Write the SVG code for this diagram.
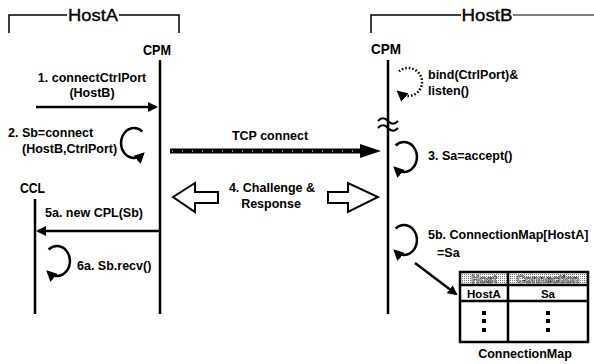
<svg xmlns="http://www.w3.org/2000/svg" width="594" height="364" viewBox="0 0 594 364">
<defs>
<marker id="ahs" viewBox="0 0 10 10" refX="7" refY="5" markerWidth="11" markerHeight="11" orient="auto" markerUnits="userSpaceOnUse">
<path d="M0,0 L10,5 L0,10 z" fill="#000"/>
</marker>
<marker id="ahl" viewBox="0 0 10 10" refX="8" refY="5" markerWidth="10" markerHeight="10" orient="auto" markerUnits="userSpaceOnUse">
<path d="M0,0 L10,5 L0,10 z" fill="#000"/>
</marker>
<pattern id="dots" width="2" height="2" patternUnits="userSpaceOnUse">
<rect width="2" height="2" fill="#fff"/>
<rect width="1" height="1" fill="#777"/>
</pattern>
</defs>
<style>
text{font-family:"Liberation Sans",Arial,sans-serif;fill:#000}
.lbl{font-size:12.5px;font-weight:bold}
.big{font-size:14.5px;font-weight:bold}
.host{font-size:17px;stroke:#000;stroke-width:0.35}
.life{stroke:#000;stroke-width:2.5;fill:none}
.br{stroke:#000;stroke-width:1.5;fill:none}
.loop{stroke:#000;stroke-width:2.5;fill:none;marker-end:url(#ahs)}
.arr{stroke:#000;stroke-width:2.5;fill:none;marker-end:url(#ahl)}
.hollow{stroke:#000;stroke-width:2;fill:#fff;stroke-linejoin:miter}
.tbl{stroke:#000;stroke-width:2.5;fill:none}
.cell{font-size:11.5px;font-weight:bold}
.hdr{font-size:11.5px;font-weight:bold;fill:#fff;stroke:#000;stroke-width:0.6}
</style>

<g id="hostA">
<path class="br" d="M9,33 V15 H67 M119,15 H179 V33"/>
<text class="host" x="93" y="21" text-anchor="middle" textLength="50" lengthAdjust="spacingAndGlyphs">HostA</text>
</g>

<g id="hostB">
<path class="br" d="M371,33 V15 H461"/>
<path d="M513,15 H594" stroke="#000" stroke-width="1.1" fill="none"/>
<text class="host" x="487" y="21" text-anchor="middle" textLength="51" lengthAdjust="spacingAndGlyphs">HostB</text>
</g>

<g id="cpmA">
<text class="big" x="143" y="55" textLength="28" lengthAdjust="spacingAndGlyphs">CPM</text>
<line class="life" x1="160" y1="60" x2="160" y2="314"/>
</g>

<g id="cpmB">
<text class="big" x="371" y="54" textLength="30" lengthAdjust="spacingAndGlyphs">CPM</text>
<line class="life" x1="388" y1="60" x2="388" y2="314"/>
<path d="M378,121 q5,-5.5 10,0 t10,0 M378,128 q5,-5.5 10,0 t10,0" stroke="#000" stroke-width="2" fill="none"/>
</g>

<g id="ccl">
<text class="big" x="20" y="193" textLength="25" lengthAdjust="spacingAndGlyphs">CCL</text>
<line class="life" x1="35" y1="199" x2="35" y2="314"/>
</g>

<g id="connectors">
<line class="arr" x1="36" y1="107" x2="156" y2="107"/>
<path class="loop" d="M142.4,131.5 A13,15 0 1 0 142.4,154.5"/>
<line x1="170" y1="151" x2="364" y2="151" stroke="#000" stroke-width="5"/>
<line x1="172" y1="151" x2="362" y2="151" stroke="#fff" stroke-width="1" stroke-dasharray="1 9"/>
<path d="M360,144 L381,151 L360,158 z" fill="#000"/>
<path d="M399,71.3 A14,14 0 1 1 399,92.7" stroke="#000" stroke-width="2.5" stroke-dasharray="1.5 2" fill="none" marker-end="url(#ahs)"/>
<path class="loop" d="M395.6,145.5 A13,15 0 1 1 395.6,168.5"/>
<polygon class="hollow" points="173,197 195,183 195,192 218,192 218,203 195,203 195,212"/>
<polygon class="hollow" points="328,192 348,192 348,183 378,197 348,212 348,203 328,203"/>
<line class="arr" x1="160" y1="231" x2="38" y2="231"/>
<path class="loop" d="M48.6,249.5 A13,15 0 1 1 48.6,272.5"/>
<path class="loop" d="M395.6,228.5 A13,15 0 1 1 395.6,251.5"/>
<line class="arr" x1="415" y1="263" x2="456" y2="294"/>
</g>

<g id="labels">
<text class="lbl" x="92" y="82" text-anchor="middle">1. connectCtrlPort</text>
<text class="lbl" x="92" y="97" text-anchor="middle">(HostB)</text>
<text class="lbl" x="8" y="137">2. Sb=connect</text>
<text class="lbl" x="22" y="153">(HostB,CtrlPort)</text>
<text class="lbl" x="270" y="140" text-anchor="middle">TCP connect</text>
<text class="lbl" x="428" y="79">bind(CtrlPort)&amp;</text>
<text class="lbl" x="428" y="95">listen()</text>
<text class="lbl" x="428" y="160">3. Sa=accept()</text>
<text class="lbl" x="272" y="192" text-anchor="middle" font-size="13.5">4. Challenge &amp;</text>
<text class="lbl" x="271" y="208" text-anchor="middle" font-size="13.5">Response</text>
<text class="lbl" x="45" y="217">5a. new CPL(Sb)</text>
<text class="lbl" x="77" y="270">6a. Sb.recv()</text>
<text class="lbl" x="428" y="239">5b. ConnectionMap[HostA]</text>
<text class="lbl" x="437" y="257">=Sa</text>
</g>

<g id="connectionMap">
<rect x="460" y="272" width="128" height="13" fill="url(#dots)"/>
<rect class="tbl" x="460" y="272" width="128" height="70"/>
<line class="tbl" x1="460" y1="285" x2="588" y2="285"/>
<line class="tbl" x1="460" y1="301" x2="588" y2="301"/>
<line class="tbl" x1="508" y1="272" x2="508" y2="342"/>
<text class="hdr" x="484" y="283" text-anchor="middle">Host</text>
<text class="hdr" x="548" y="283" text-anchor="middle">Connection</text>
<text class="cell" x="484" y="298" text-anchor="middle">HostA</text>
<text class="cell" x="548" y="298" text-anchor="middle">Sa</text>
<g fill="#000">
<rect x="482" y="311" width="4" height="4"/><rect x="482" y="319" width="4" height="4"/><rect x="482" y="328" width="4" height="4"/>
<rect x="546" y="311" width="4" height="4"/><rect x="546" y="319" width="4" height="4"/><rect x="546" y="328" width="4" height="4"/>
</g>
<text class="lbl" x="525" y="358" text-anchor="middle" font-size="12">ConnectionMap</text>
</g>
</svg>
